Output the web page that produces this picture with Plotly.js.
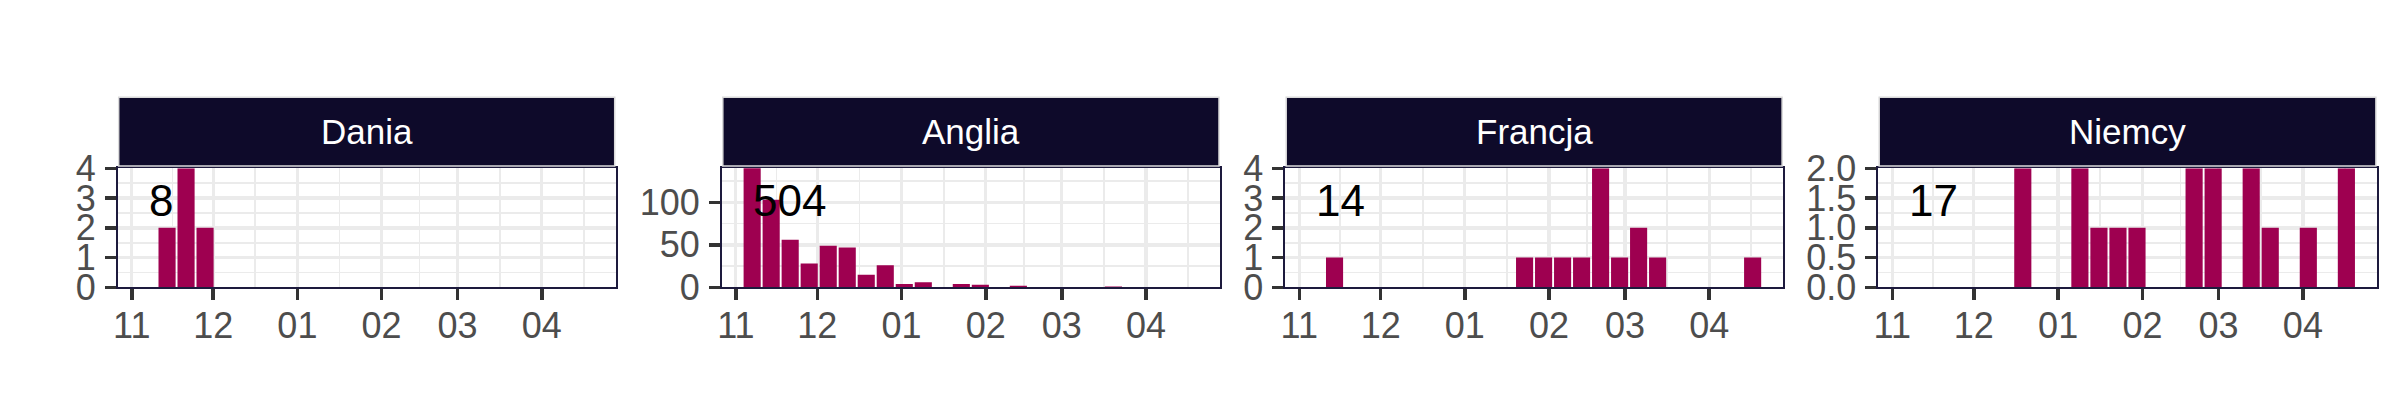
<!DOCTYPE html>
<html>
<head>
<meta charset="utf-8">
<script src="https://cdn.plot.ly/plotly-3.0.1.min.js"></script>
<style>
  html, body { margin: 0; padding: 0; background: #ffffff; }
  #chart { width: 2400px; height: 420px; }
</style>
</head>
<body>
<div id="chart"></div>
<script>
// ---- data (weekly counts, week starting dates) ----
const countries = ['Dania', 'Anglia', 'Francja', 'Niemcy'];

const daniaWeeks = ['2021-11-14', '2021-11-21', '2021-11-28'];
const daniaCounts = [2, 4, 2];

const angliaWeeks = ['2021-11-07', '2021-11-14', '2021-11-21', '2021-11-28', '2021-12-05', '2021-12-12',
  '2021-12-19', '2021-12-26', '2022-01-02', '2022-01-09', '2022-01-23', '2022-01-30', '2022-02-13', '2022-03-20'];
const angliaCounts = [160, 103, 56, 28, 49, 47, 15, 26, 4, 6, 4, 3, 2, 1];

const francjaWeeks = ['2021-11-14', '2022-01-23', '2022-01-30', '2022-02-06', '2022-02-13', '2022-02-20',
  '2022-02-27', '2022-03-06', '2022-03-13', '2022-04-17'];
const francjaCounts = [1, 1, 1, 1, 1, 4, 1, 2, 1, 1];

const niemcyWeeks = ['2021-12-19', '2022-01-09', '2022-01-16', '2022-01-23', '2022-01-30', '2022-02-20',
  '2022-02-27', '2022-03-13', '2022-03-20', '2022-04-03', '2022-04-17'];
const niemcyCounts = [2, 2, 1, 1, 1, 2, 2, 2, 1, 1, 2];

// axis tick labels (months)
const tickDates = ['2021-11-01', '2021-12-01', '2022-01-01', '2022-02-01', '2022-03-01', '2022-04-01'];
const tickLabels = ['11', '12', '01', '02', '03', '04'];

// y axis upper limits and tick steps per panel
const yMax = [4, 140, 4, 2];
const yStep = [1, 50, 1, 0.5];
const yFormat = ['d', 'd', 'd', '.1f'];

const weeksList = [daniaWeeks, angliaWeeks, francjaWeeks, niemcyWeeks];
const countsList = [daniaCounts, angliaCounts, francjaCounts, niemcyCounts];

// ---- styling / layout ----
const FONT = 'Liberation Sans, Arial, Helvetica, sans-serif';
const BAR = '#9E0050';
const STRIP = '#0E0A2A';
const BORDER = '#1d1a3d';
const GRID = '#EBEBEB';
const DAY = 86400000;

const W = 2400, H = 420;
const panelX = [[117.9, 615.5], [722.0, 1219.8], [1285.4, 1782.9], [1878.4, 2376.7]];
const panelTop = 168.3, panelBottom = 287.4;
const stripTop = 97.3, stripBottom = 166.0;

const xRange = ['2021-10-26 21:36', '2022-04-28 03:36'];

// minor x breaks: midpoints between month ticks, plus one extrapolated after last
const tms = tickDates.map(d => Date.parse(d + 'T00:00:00Z'));
const minorMs = [];
for (let i = 0; i < tms.length - 1; i++) minorMs.push((tms[i] + tms[i + 1]) / 2);
minorMs.push(tms[tms.length - 1] + (tms[tms.length - 1] - minorMs[minorMs.length - 1]));
const minorVals = minorMs.map(ms => new Date(ms).toISOString().replace('T', ' ').replace('Z', ''));

const traces = [];
const layout = {
  width: W, height: H,
  margin: {l: 0, r: 0, t: 0, b: 0, pad: 0},
  paper_bgcolor: '#ffffff',
  plot_bgcolor: '#ffffff',
  showlegend: false,
  font: {family: FONT},
  shapes: [],
  annotations: []
};

countries.forEach((name, i) => {
  const n = i === 0 ? '' : String(i + 1);
  traces.push({
    type: 'bar',
    x: weeksList[i],
    y: countsList[i],
    width: weeksList[i].map(() => 0.9 * 7 * DAY),
    marker: {color: BAR, line: {width: 0}},
    xaxis: 'x' + n,
    yaxis: 'y' + n,
    hoverinfo: 'skip'
  });

  const dom = [panelX[i][0] / W, panelX[i][1] / W];
  layout['xaxis' + n] = {
    type: 'date',
    domain: dom,
    anchor: 'y' + n,
    range: xRange,
    tickmode: 'array',
    tickvals: tickDates,
    ticktext: tickLabels,
    ticks: 'outside',
    ticklen: 11,
    tickwidth: 3.5,
    tickcolor: '#333333',
    ticklabelstandoff: -6,
    tickfont: {family: FONT, size: 36, color: '#4D4D4D'},
    showgrid: true,
    gridcolor: GRID,
    gridwidth: 3.3,
    minor: {tickmode: 'array', tickvals: minorVals, showgrid: true, gridcolor: GRID, gridwidth: 1.7, ticks: ''},
    showline: true,
    mirror: true,
    linecolor: BORDER,
    linewidth: 2,
    zeroline: false,
    fixedrange: true
  };
  layout['yaxis' + n] = {
    domain: [1 - panelBottom / H, 1 - panelTop / H],
    anchor: 'x' + n,
    range: [0, yMax[i]],
    tick0: 0,
    dtick: yStep[i],
    tickformat: yFormat[i],
    ticks: 'outside',
    ticklen: 11,
    tickwidth: 3.5,
    tickcolor: '#333333',
    ticklabelstandoff: 2,
    tickfont: {family: FONT, size: 36, color: '#4D4D4D'},
    showgrid: true,
    gridcolor: GRID,
    gridwidth: 3.3,
    minor: {dtick: yStep[i] / 2, tick0: 0, showgrid: true, gridcolor: GRID, gridwidth: 1.7, ticks: ''},
    showline: true,
    mirror: true,
    linecolor: BORDER,
    linewidth: 2,
    zeroline: false,
    fixedrange: true
  };

  // facet strip
  layout.shapes.push({
    type: 'rect', xref: 'paper', yref: 'paper',
    x0: dom[0] + 0.8 / W, x1: dom[1] - 0.8 / W,
    y0: 1 - stripBottom / H, y1: 1 - stripTop / H,
    fillcolor: STRIP,
    line: {color: '#DADADA', width: 1.5},
    layer: 'above'
  });
  layout.annotations.push({
    xref: 'paper', yref: 'paper',
    x: (dom[0] + dom[1]) / 2,
    y: 1 - ((stripTop + stripBottom) / 2) / H,
    xanchor: 'center', yanchor: 'middle',
    text: name,
    showarrow: false,
    font: {family: FONT, size: 35, color: '#ffffff'}
  });

  // total count label
  const total = countsList[i].reduce((a, b) => a + b, 0);
  layout.annotations.push({
    xref: 'x' + n + ' domain', yref: 'y' + n + ' domain',
    x: 0.058, y: 0.727,
    xanchor: 'left', yanchor: 'middle',
    text: String(total),
    showarrow: false,
    font: {family: FONT, size: 44, color: '#000000'}
  });
});

Plotly.newPlot('chart', traces, layout, {staticPlot: true, displayModeBar: false});
</script>
</body>
</html>
